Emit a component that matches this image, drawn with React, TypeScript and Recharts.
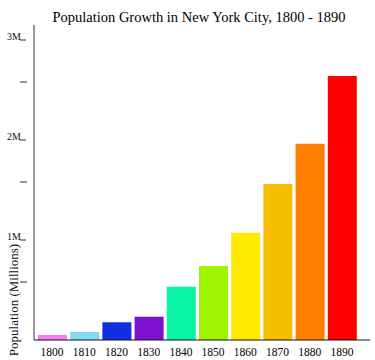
import { Bar, BarChart, Cell, XAxis, YAxis } from "recharts";

const years = ["1800", "1810", "1820", "1830", "1840", "1850", "1860", "1870", "1880", "1890"];
const population = [0.05, 0.08, 0.177, 0.233, 0.533, 0.74, 1.073, 1.56, 1.963, 2.64];
const barColors = [
  "#f47ef4",
  "#7fd9f2",
  "#1030e0",
  "#7f10d2",
  "#08f5a8",
  "#a2f500",
  "#ffe900",
  "#f6c000",
  "#ff8000",
  "#ff0000",
];
const yTicks = [0.5, 1, 1.5, 2, 2.5, 3];

const serif = "'Liberation Serif', 'Times New Roman', serif";

const data = years.map((year, i) => ({ year, value: population[i] }));

function PopTick(props: any) {
  const { x, y, payload } = props;
  const v = payload.value as number;
  if (Number.isInteger(v)) {
    return (
      <g>
        <text x={x - 5} y={y} textAnchor="end" fontFamily={serif} fontSize={10} fill="#111">
          {v}M
        </text>
        <line x1={x - 6} x2={x} y1={y} y2={y} stroke="#333" />
      </g>
    );
  }
  // half-million marks sit a little higher in the original
  return <line x1={x - 6} x2={x + 1} y1={y - 8} y2={y - 8} stroke="#333" />;
}

export default function App() {
  return (
    <div style={{ position: "absolute", left: 0, top: 0, width: 375, height: 360, background: "#fff" }}>
      <div
        style={{
          position: "absolute",
          left: 0,
          top: 9,
          width: 398,
          textAlign: "center",
          fontFamily: serif,
          fontSize: 14.5,
          color: "#000",
        }}
      >
        Population Growth in New York City, 1800 - 1890
      </div>
      <div
        style={{
          position: "absolute",
          left: 14,
          top: 300,
          transform: "translate(-50%, -50%) rotate(-90deg)",
          whiteSpace: "nowrap",
          fontFamily: serif,
          fontSize: 13,
          color: "#111",
        }}
      >
        Population (Millions)
      </div>
      <BarChart
        width={375}
        height={360}
        data={data}
        margin={{ top: 25, right: 5, left: 0, bottom: 0 }}
      >
        <XAxis
          dataKey="year"
          height={20}
          tickLine={false}
          axisLine={{ stroke: "#111" }}
          padding={{ left: 2, right: 12 }}
          tick={{ fontFamily: serif, fontSize: 11.5, fill: "#000" }}
          interval={0}
        />
        <YAxis
          width={34}
          domain={[0, 3.15]}
          ticks={yTicks}
          tickLine={false}
          axisLine={{ stroke: "#333" }}
          tick={<PopTick />}
        />
        <Bar dataKey="value" barSize={29} isAnimationActive={false}>
          {data.map((d, i) => (
            <Cell key={d.year} fill={barColors[i]} />
          ))}
        </Bar>
      </BarChart>
    </div>
  );
}
